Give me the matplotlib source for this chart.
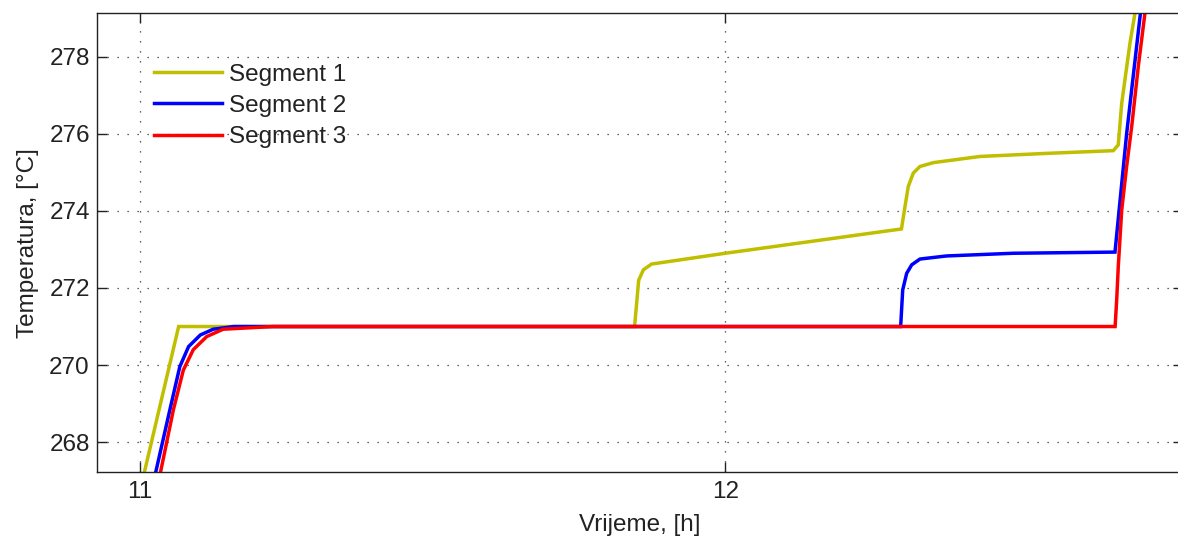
import matplotlib
matplotlib.use("Agg")
import matplotlib.pyplot as plt

plt.rcParams['font.family'] = ['Liberation Sans', 'DejaVu Sans']

# --- data (time in h, temperature in °C) ---
seg1_t = [11.004, 11.066, 11.845, 11.852, 11.860, 11.874, 12.000, 12.301,
          12.307, 12.3126, 12.3212, 12.3326, 12.3554, 12.4352, 12.5491,
          12.6629, 12.6714, 12.6773, 12.6914, 12.700, 12.703]
seg1_T = [267.0, 271.0, 271.0, 272.2, 272.47, 272.62, 272.9, 273.53,
          274.11, 274.63, 274.98, 275.15, 275.25, 275.41, 275.49,
          275.56, 275.71, 276.79, 278.35, 279.13, 279.5]

seg2_t = [11.0235, 11.051, 11.068, 11.083, 11.103, 11.125, 11.160, 12.2996,
          12.3031, 12.3099, 12.3185, 12.3326, 12.378, 12.492, 12.6658,
          12.6857, 12.7093, 12.712]
seg2_T = [267.0, 268.84, 269.96, 270.48, 270.78, 270.93, 271.0, 271.0,
          271.95, 272.38, 272.6, 272.75, 272.83, 272.90, 272.93,
          276.0, 279.13, 279.5]

seg3_t = [11.032, 11.057, 11.074, 11.091, 11.114, 11.142, 11.227, 12.666,
          12.6687, 12.6714, 12.6773, 12.6857, 12.6943, 12.7056, 12.7170, 12.720]
seg3_T = [267.0, 268.84, 269.87, 270.4, 270.74, 270.93, 271.0, 271.0,
          271.69, 272.55, 274.02, 275.15, 276.18, 277.74, 279.13, 279.5]

labels = ["Segment 1", "Segment 2", "Segment 3"]
colors = ["#BFBF00", "#0000FF", "#FF0000"]

x_ticks = [11, 12]
y_ticks = [268, 270, 272, 274, 276, 278]

W, H = 1178, 539
fig = plt.figure(figsize=(W / 100, H / 100), dpi=100)
left, right, bottom_px, top_px = 96.7, 1183, 472.3, 13
ax = fig.add_axes([left / W, (H - bottom_px) / H, (right - left) / W, (bottom_px - top_px) / H])

for t, T, lab, c in zip([seg1_t, seg2_t, seg3_t], [seg1_T, seg2_T, seg3_T], labels, colors):
    ax.plot(t, T, color=c, lw=2.5, label=lab, solid_joinstyle='miter')

ax.set_xlim(10.926, 12.782)
ax.set_ylim(267.22, 279.13)
ax.set_xticks(x_ticks)
ax.set_yticks(y_ticks)
ax.set_xticklabels([str(v) for v in x_ticks])
ax.set_yticklabels([str(v) for v in y_ticks])

fs = 17.5
ax.tick_params(direction='in', length=7, width=1, top=True, right=True,
               labelsize=fs, colors='#222222', labelcolor='#222222')
ax.tick_params(axis='x', pad=6)
ax.tick_params(axis='y', pad=5)
for s in ax.spines.values():
    s.set_linewidth(1.0)
    s.set_color('#222222')

ax.grid(True, color='#333333', linestyle=(0, (1, 7)), linewidth=0.9)

ax.set_xlabel("Vrijeme, [h]", fontsize=fs, color='#222222', labelpad=8)
ax.set_ylabel("Temperatura, [°C]", fontsize=fs, color='#222222', labelpad=7)

leg = ax.legend(loc='upper left', bbox_to_anchor=(0.0525, 0.89), frameon=False,
                fontsize=fs, handlelength=2.8, handletextpad=0.3,
                labelspacing=0.38, borderpad=0, borderaxespad=0)
for t in leg.get_texts():
    t.set_color('#222222')

fig.savefig("out.png", dpi=100)
